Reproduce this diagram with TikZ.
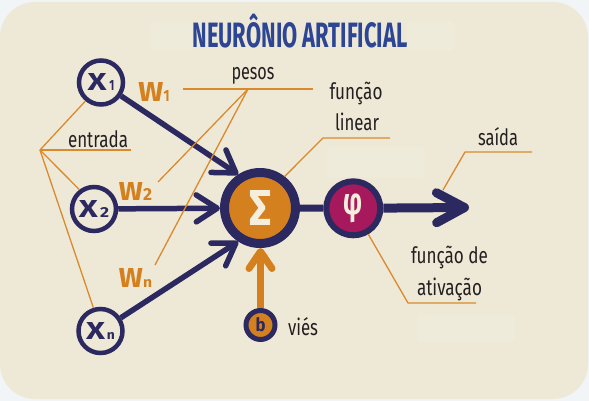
\documentclass[tikz,border=0pt]{standalone}
\usepackage{fontspec}
\setmainfont{Fira Sans}
\usetikzlibrary{arrows.meta,calc}
\definecolor{navy}{HTML}{2B2960}
\definecolor{orng}{HTML}{D4801F}
\definecolor{leadc}{HTML}{DA8A2C}
\definecolor{magent}{HTML}{A6195C}
\definecolor{titleblue}{HTML}{2C4594}
\definecolor{beige}{HTML}{EEE8D6}
\definecolor{patch}{HTML}{EFEBDA}
\definecolor{outerbg}{HTML}{F1F5F8}
\definecolor{cream}{HTML}{F5EEDD}
\definecolor{textc}{HTML}{231F20}
\begin{document}
\begin{tikzpicture}[x=1pt,y=-1pt,
  xnode/.style={circle, draw=navy, line width=4.5pt, minimum size=44pt, inner sep=0pt, fill=beige, text=navy, font=\bfseries},
  signode/.style={circle, draw=navy, line width=9pt, fill=orng, minimum size=71pt, inner sep=0pt, text=cream, font=\bfseries},
  phinode/.style={circle, draw=navy, line width=6pt, fill=magent, minimum size=54pt, inner sep=0pt, text=cream, font=\bfseries},
  bnode/.style={circle, draw=navy, line width=5pt, fill=orng, minimum size=29pt, inner sep=0pt, text=navy, font=\bfseries},
  xarrow/.style={draw=navy, line width=5.5pt, -{Straight Barb[length=21pt,width=27pt,round]}},
  link/.style={draw=navy, line width=7pt},
  outarrow/.style={draw=navy, line width=9pt, -{Straight Barb[length=28pt,width=30pt,round]}},
  barrow/.style={draw=orng, line width=7pt, -{Straight Barb[length=17pt,width=23pt,round]}},
  lead/.style={draw=leadc, line width=1.3pt},
  lbl/.style={text=textc, inner sep=0pt, font=\fontsize{22.5}{26}\selectfont},
  wlbl/.style={text=orng, inner sep=0pt, font=\bfseries},
  patchbox/.style={fill=patch, rounded corners=3pt}
]
\useasboundingbox (0,0) rectangle (589,401);
\fill[outerbg] (0,0) rectangle (589,401);
\fill[beige, rounded corners=35pt] (0,2) rectangle (588,399);
% faint lighter patches
\fill[patchbox] (150,22) rectangle (193,50);
\fill[patchbox] (407,22) rectangle (455,50);
\fill[patchbox] (327,147) rectangle (425,177);
\fill[patchbox] (417,315) rectangle (515,342);

% title
\node[text=titleblue, inner sep=0pt, font=\bfseries] (title) at (300,35.5)
  {\resizebox{215pt}{25pt}{NEUR\smash{Ô}NIO ARTIFICIAL}};

% neuron nodes
\node[xnode] (x1) at (101,82.5) {\resizebox{19pt}{17pt}{X}\hspace{2.5pt}\resizebox{5pt}{10pt}{1}};
\node[xnode] (x2) at (94,209) {\resizebox{19pt}{17pt}{X}\hspace{2pt}\resizebox{9pt}{10pt}{2}};
\node[xnode] (xn) at (100.5,331) {\resizebox{19pt}{17pt}{X}\hspace{1.5pt}\resizebox{8pt}{7pt}{n}};
\node[signode] (sigma) at (260,208) {\resizebox{22pt}{35pt}{Σ}};
\node[phinode] (phi) at (353.3,208.3) {\resizebox*{19pt}{29pt}{φ}};
\node[bnode] (b) at (260.5,325) {\resizebox{10pt}{14pt}{b}};
\coordinate (out) at (469,207.5);

% weight labels
\node[wlbl] (w1) at (154,92.5) {\resizebox{25pt}{19pt}{W}\resizebox{6pt}{11pt}{1}};
\node[wlbl] (w2) at (135.5,191) {\resizebox{24pt}{18pt}{W}\resizebox{9pt}{12pt}{2}};
\node[wlbl] (wn) at (135.5,277.5) {\resizebox{24pt}{19pt}{W}\resizebox{9pt}{8pt}{n}};

% text labels
\node[lbl] (pesos) at (253,75.5) {\resizebox{43pt}{\height}{pesos}};
\node[lbl] (entrada) at (98,139) {\resizebox{60pt}{\height}{entrada}};
\node[lbl] (funcao) at (356,94) {\resizebox{53pt}{\height}{função}};
\node[lbl] (linear) at (357,122) {\resizebox{44pt}{\height}{linear}};
\node[lbl] (saida) at (498,137) {\resizebox{40pt}{\height}{saída}};
\node[lbl] (funcaode) at (449.5,258) {\resizebox{77pt}{\height}{função de}};
\node[lbl] (ativacao) at (449.5,289) {\resizebox{65pt}{\height}{ativação}};
\node[lbl] (vies) at (303,327) {\resizebox{30pt}{\height}{viés}};

% connectors
\draw[xarrow] (x1) -- (sigma.123);
\draw[xarrow] (x2) -- (sigma);
\draw[xarrow] (xn) -- (sigma.237);
\draw[link] (sigma) -- (phi);
\draw[outarrow] (phi) -- (out);
\draw[barrow] (b) -- (b |- sigma.south);

% leader lines
\coordinate (pesosL) at (183,89);
\coordinate (pesosR) at (313,89);
\coordinate (pesosH) at (248,89);
\coordinate (w2end) at (158,182);
\coordinate (wnend) at (155,265);
\draw[lead] (pesosL) -- (pesosR);
\draw[lead] (pesosH) -- (w2end);
\draw[lead] (pesosH) -- (wnend);

\coordinate (entH) at (40,150);
\coordinate (entR) at (131,150);
\draw[lead] (entH) -- (entR);
\draw[lead] (entH) -- (x1.230);
\draw[lead] (entH) -- (x2.127);
\draw[lead] (entH) -- (xn.107);

\coordinate (linL) at (323,138);
\coordinate (linR) at (390,138);
\draw[lead] (linR) -- (linL) -- (sigma.52);

\coordinate (saiL) at (465,152);
\coordinate (saiR) at (532,152);
\coordinate (saiE) at (443,190);
\draw[lead] (saiR) -- (saiL) -- (saiE);

\coordinate (atL) at (408,303);
\coordinate (atR) at (476,303);
\draw[lead] (atR) -- (atL) -- (phi.-60);
\end{tikzpicture}
\end{document}
